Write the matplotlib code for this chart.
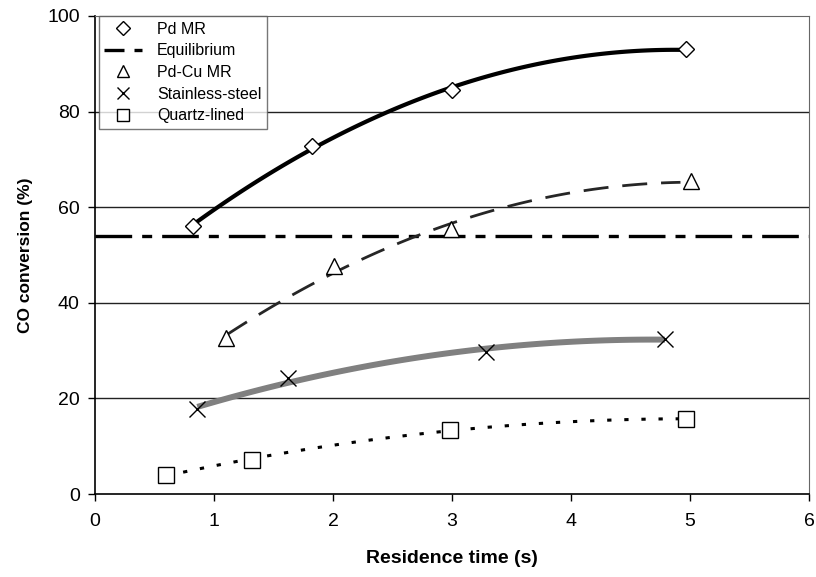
import numpy as np
import matplotlib
matplotlib.use("Agg")
import matplotlib.pyplot as plt
from matplotlib.lines import Line2D

plt.rcParams['font.family'] = ['Liberation Sans', 'DejaVu Sans']

# données
pd_x = [0.82, 1.82, 3.0, 4.97]
pd_y = [56.0, 72.8, 84.6, 93.0]
pdcu_x = [1.10, 2.01, 2.99, 5.01]
pdcu_y = [32.6, 47.8, 55.5, 65.4]
ss_x = [0.86, 1.62, 3.29, 4.79]
ss_y = [17.7, 24.2, 29.8, 32.5]
qz_x = [0.60, 1.32, 2.98, 4.97]
qz_y = [4.0, 7.1, 13.4, 15.7]
equilibrium = 54.0

fig = plt.figure(figsize=(8.16, 5.77), dpi=100)
ax = fig.add_axes([0.1164, 0.1438, 0.9914 - 0.1164, 0.9723 - 0.1438])


# courbe de tendance polynomiale (ordre 2), comme dans Excel
def trend(x, y, x_end=None):
    p = np.polyfit(x, y, 2)
    xs = np.linspace(min(x), x_end if x_end else max(x), 100)
    return xs, np.polyval(p, xs)


for yv in [20, 40, 60, 80]:
    ax.axhline(yv, color='#222222', lw=1.0, zorder=1)

ax.axhline(equilibrium, color='black', lw=2.4, dashes=(11, 3, 3, 3), zorder=2)

xs, ys = trend(pd_x, pd_y)
ax.plot(xs, ys, color='black', lw=3.0, zorder=3)
xs, ys = trend(pdcu_x, pdcu_y, 4.92)
ax.plot(xs, ys, color='#262626', lw=2.0, dashes=(9, 5), zorder=3)
xs, ys = trend(ss_x, ss_y)
ax.plot(xs, ys, color='#808080', lw=4.3, solid_capstyle='butt', zorder=3)
xs, ys = trend(qz_x, qz_y, 4.9)
ax.plot(xs, ys, color='black', lw=2.2, dashes=(1.4, 4.2), zorder=3)

mk = dict(linestyle='none', mfc='white', mec='black', mew=1.0, zorder=4)
ax.plot(pd_x, pd_y, marker='D', ms=8.5, **mk)
ax.plot(pdcu_x, pdcu_y, marker='^', ms=11, **mk)
ax.plot(ss_x, ss_y, marker='x', ms=11, **mk)
ax.plot(qz_x, qz_y, marker='s', ms=11, **mk)

ax.set_xlim(0, 6)
ax.set_ylim(0, 100)
ax.set_xticks(range(7))
ax.set_yticks(range(0, 101, 20))
ax.tick_params(direction='out', length=5, width=1, labelsize=14)
ax.tick_params(axis='x', pad=9)
ax.tick_params(axis='y', pad=6)
ax.set_xlabel('Residence time (s)', fontsize=14, fontweight='bold', labelpad=14)
ax.set_ylabel('CO conversion (%)', fontsize=12.5, fontweight='bold', labelpad=10)
for s in ['top', 'right']:
    ax.spines[s].set_color('#666666')
for s in ['left', 'bottom']:
    ax.spines[s].set_linewidth(1.2)

handles = [
    Line2D([], [], marker='D', ms=7, **mk),
    Line2D([], [], color='black', lw=2.4, dashes=(6, 3, 2.5, 3)),
    Line2D([], [], marker='^', ms=8, **mk),
    Line2D([], [], marker='x', ms=8, **mk),
    Line2D([], [], marker='s', ms=8, **mk),
]
labels = ['Pd MR', 'Equilibrium', 'Pd-Cu MR', 'Stainless-steel', 'Quartz-lined']
leg = ax.legend(handles, labels, loc='upper left', bbox_to_anchor=(0.005, 1.0),
                borderaxespad=0, fontsize=11.5, frameon=True, fancybox=False,
                handlelength=2.4, labelspacing=0.42, borderpad=0.35, handletextpad=0.9)
leg.get_frame().set_edgecolor('#555555')
leg.get_frame().set_linewidth(1.0)

fig.savefig('out.png', dpi=100)
